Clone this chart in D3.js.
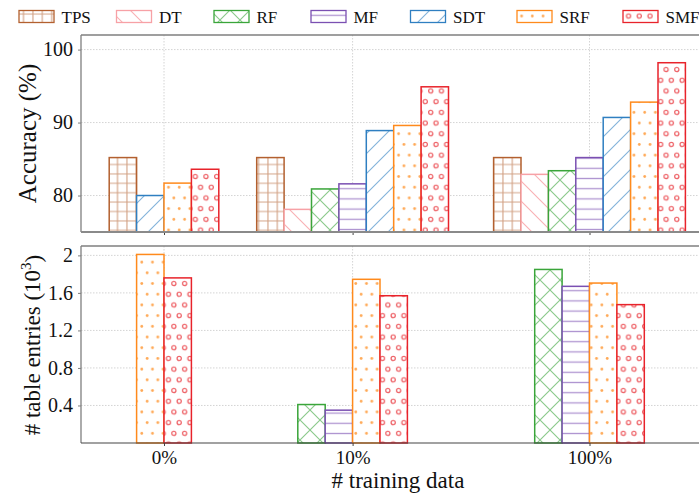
<!DOCTYPE html>
<html>
<head>
<meta charset="utf-8">
<script src="https://cdn.jsdelivr.net/npm/d3@7"></script>
<style>
  html, body { margin: 0; padding: 0; background: #fff; }
  svg { display: block; font-family: "Liberation Serif", "Times New Roman", serif; }
</style>
</head>
<body>
<svg id="chart" width="699" height="494"></svg>
<script>
// ---------------- data ----------------
const categories = ["0%", "10%", "100%"];
const methods = ["TPS", "DT", "RF", "MF", "SDT", "SRF", "SMF"];

// Accuracy (%) per method, per category (null = not shown)
const accTPS = [85.2, 85.2, 85.2];
const accDT  = [null, 78.1, 82.9];
const accRF  = [null, 80.9, 83.4];
const accMF  = [null, 81.6, 85.2];
const accSDT = [80.0, 88.9, 90.7];
const accSRF = [81.7, 89.6, 92.8];
const accSMF = [83.6, 94.9, 98.2];

// # table entries (10^3)
const entTPS = [null, null, null];
const entDT  = [null, null, null];
const entRF  = [null, 0.41, 1.85];
const entMF  = [null, 0.35, 1.67];
const entSDT = [null, null, null];
const entSRF = [2.01, 1.745, 1.705];
const entSMF = [1.76, 1.57, 1.475];

const accTicks = [80, 90, 100];
const entTicks = [0.4, 0.8, 1.2, 1.6, 2];
const entTickLabels = ["0.4", "0.8", "1.2", "1.6", "2"];

const accuracy = [accTPS, accDT, accRF, accMF, accSDT, accSRF, accSMF];
const entries  = [entTPS, entDT, entRF, entMF, entSDT, entSRF, entSMF];

// ---------------- styles ----------------
const colors = {
  TPS: "#b3602f", DT: "#f7a1a6", RF: "#3aa53a", MF: "#7b50b2",
  SDT: "#2f7fc1", SRF: "#ff8a1c", SMF: "#e8232b"
};
const serif = "Liberation Serif, Times New Roman, serif";

const svg = d3.select("#chart");
const defs = svg.append("defs");

function pattern(id, w, h) {
  return defs.append("pattern").attr("id", id)
    .attr("patternUnits", "userSpaceOnUse")
    .attr("width", w).attr("height", h);
}
const hatchOpacity = 0.6;
// TPS: grid
(function(){
  const g = 9.4, c = colors.TPS;
  const p = pattern("p-TPS", g, g);
  p.append("path").attr("d", `M0,${g/2} H${g} M${g/2},0 V${g}`)
    .attr("stroke", c).attr("stroke-width", 1.1).attr("stroke-opacity", hatchOpacity).attr("fill", "none");
})();
// DT: backslash
(function(){
  const s = 20, c = colors.DT;
  const p = pattern("p-DT", s, s);
  p.append("path").attr("d", `M0,0 L${s},${s} M${-s/2},${s/2} L${s/2},${s*1.5} M${s/2},${-s/2} L${s*1.5},${s/2}`)
    .attr("stroke", c).attr("stroke-width", 1.1).attr("stroke-opacity", 0.85).attr("fill", "none");
})();
// RF: cross
(function(){
  const s = 20, c = colors.RF;
  const p = pattern("p-RF", s, s);
  p.append("path").attr("d",
    `M0,0 L${s},${s} M${-s/2},${s/2} L${s/2},${s*1.5} M${s/2},${-s/2} L${s*1.5},${s/2} ` +
    `M0,${s} L${s},0 M${-s/2},${s/2} L${s/2},${-s/2} M${s/2},${s*1.5} L${s*1.5},${s/2}`)
    .attr("stroke", c).attr("stroke-width", 1.1).attr("stroke-opacity", hatchOpacity).attr("fill", "none");
})();
// MF: horizontal
(function(){
  const h = 10.2, c = colors.MF;
  const p = pattern("p-MF", 10, h);
  p.append("path").attr("d", `M0,${h/2} H10`)
    .attr("stroke", c).attr("stroke-width", 1.3).attr("stroke-opacity", hatchOpacity).attr("fill", "none");
})();
// SDT: slash
(function(){
  const s = 20, c = colors.SDT;
  const p = pattern("p-SDT", s, s);
  p.append("path").attr("d", `M0,${s} L${s},0 M${-s/2},${s/2} L${s/2},${-s/2} M${s/2},${s*1.5} L${s*1.5},${s/2}`)
    .attr("stroke", c).attr("stroke-width", 1.1).attr("stroke-opacity", hatchOpacity).attr("fill", "none");
})();
// SRF: small dots (staggered)
(function(){
  const w = 10.7, h = 21.4, c = colors.SRF;
  const p = pattern("p-SRF", w, h);
  [[w*0.25, h*0.25], [w*0.75, h*0.75]].forEach(([cx, cy]) =>
    p.append("circle").attr("cx", cx).attr("cy", cy).attr("r", 1.4).attr("fill", c).attr("fill-opacity", 0.75));
})();
// SMF: small open circles (staggered)
(function(){
  const w = 10.7, h = 21.4, c = colors.SMF;
  const p = pattern("p-SMF", w, h);
  [[w*0.25, h*0.25], [w*0.75, h*0.75]].forEach(([cx, cy]) =>
    p.append("circle").attr("cx", cx).attr("cy", cy).attr("r", 2.1).attr("fill", "none")
      .attr("stroke", c).attr("stroke-width", 1.3).attr("stroke-opacity", 0.7));
})();

// ---------------- layout ----------------
const plotLeft = 81, plotRight = 714;
const barW = 27.4;
const spineColor = "#7f7f7f";
const gridColor = "#cfcfcf";

const x = d3.scaleLinear().domain([0, 1, 2]).range([164, 352.6, 589.5]);

function drawPanel(values, domain, top, bottom, ticks, tickLabels, opts) {
  const y = d3.scaleLinear().domain(domain).range([bottom, top]);
  const g = svg.append("g");

  // grid
  g.selectAll("line.hg").data(ticks).join("line")
    .attr("x1", plotLeft).attr("x2", plotRight)
    .attr("y1", d => y(d)).attr("y2", d => y(d))
    .attr("stroke", gridColor).attr("stroke-width", 0.9).attr("stroke-dasharray", "1.5,1.5");
  g.selectAll("line.vg").data([0, 1, 2]).join("line")
    .attr("x1", d => x(d)).attr("x2", d => x(d))
    .attr("y1", top).attr("y2", bottom)
    .attr("stroke", gridColor).attr("stroke-width", 0.9).attr("stroke-dasharray", "1.5,1.5");

  // bars
  categories.forEach((cat, ci) => {
    const present = methods.map((m, mi) => ({ m, v: values[mi][ci] })).filter(d => d.v !== null);
    const start = x(ci) - present.length * barW / 2;
    present.forEach((d, k) => {
      const x0 = start + k * barW;
      const yv = y(d.v);
      g.append("rect")
        .attr("x", x0).attr("y", yv)
        .attr("width", barW).attr("height", y(domain[0]) - yv)
        .attr("fill", "#fff");
      g.append("rect")
        .attr("x", x0).attr("y", yv)
        .attr("width", barW).attr("height", y(domain[0]) - yv)
        .attr("fill", `url(#p-${d.m})`)
        .attr("stroke", colors[d.m]).attr("stroke-width", 1.5);
    });
  });

  // y axis
  const ya = d3.axisLeft(y).tickValues(ticks).tickSize(3).tickPadding(5)
    .tickFormat((d, i) => tickLabels[i]);
  const yg = g.append("g").attr("transform", `translate(${plotLeft},0)`).call(ya);
  yg.attr("font-family", serif);
  yg.select(".domain").remove();
  yg.selectAll(".tick line").attr("stroke", spineColor);
  yg.selectAll(".tick text").attr("font-size", 20).attr("fill", "#111");

  // x ticks
  const xa = d3.axisBottom(x).tickValues([0, 1, 2]).tickSize(3).tickPadding(5)
    .tickFormat(i => opts.showXLabels ? categories[i] : "");
  const xg = g.append("g").attr("transform", `translate(0,${bottom})`).call(xa);
  xg.attr("font-family", serif);
  xg.select(".domain").remove();
  xg.selectAll(".tick line").attr("stroke", "#444");
  xg.selectAll(".tick text").attr("font-size", 19).attr("fill", "#111")
    .attr("dy", null).attr("y", 21);

  // spines
  g.append("line").attr("x1", plotLeft).attr("x2", plotLeft).attr("y1", top).attr("y2", bottom)
    .attr("stroke", spineColor).attr("stroke-width", 1.3);
  g.append("line").attr("x1", plotLeft).attr("x2", plotRight).attr("y1", top).attr("y2", top)
    .attr("stroke", spineColor).attr("stroke-width", 1.5);
  g.append("line").attr("x1", plotRight).attr("x2", plotRight).attr("y1", top).attr("y2", bottom)
    .attr("stroke", spineColor).attr("stroke-width", 1.3);
  g.append("line").attr("x1", plotLeft).attr("x2", plotRight).attr("y1", bottom).attr("y2", bottom)
    .attr("stroke", opts.bottomColor).attr("stroke-width", opts.bottomWidth);
  return y;
}

drawPanel(accuracy, [75, 102], 35, 232, accTicks, accTicks.map(String),
  { showXLabels: false, bottomColor: "#8a8a8a", bottomWidth: 2 });
drawPanel(entries, [0, 2.1], 246, 443, entTicks, entTickLabels,
  { showXLabels: true, bottomColor: "#444", bottomWidth: 1.2 });

// axis titles
svg.append("text")
  .attr("transform", "translate(27,133.5) rotate(-90)")
  .attr("text-anchor", "middle").attr("dy", "0.35em")
  .attr("font-size", 25).attr("fill", "#111")
  .text("Accuracy (%)");

const t2 = svg.append("text")
  .attr("transform", "translate(32,345) rotate(-90)")
  .attr("text-anchor", "middle").attr("dy", "0.35em")
  .attr("font-size", 23).attr("fill", "#111");
t2.append("tspan").text("# table entries (10");
t2.append("tspan").attr("font-size", 15).attr("dy", "-0.6em").text("3");
t2.append("tspan").attr("dy", "0.45em").text(")");

svg.append("text")
  .attr("x", 398).attr("y", 488)
  .attr("text-anchor", "middle")
  .attr("font-size", 23).attr("fill", "#111")
  .text("# training data");

// legend
const legendX = [19, 116.5, 214, 311, 410.5, 517, 623];
const leg = svg.append("g");
methods.forEach((m, i) => {
  const lx = legendX[i];
  leg.append("rect").attr("x", lx).attr("y", 10.5).attr("width", 35).attr("height", 12)
    .attr("fill", "#fff");
  leg.append("rect").attr("x", lx).attr("y", 10.5).attr("width", 35).attr("height", 12)
    .attr("fill", `url(#p-${m})`).attr("stroke", colors[m]).attr("stroke-width", 1.3);
  leg.append("text").attr("x", lx + 42.5).attr("y", 22.5)
    .attr("font-size", 17).attr("fill", "#111").text(m);
});
</script>
</body>
</html>
